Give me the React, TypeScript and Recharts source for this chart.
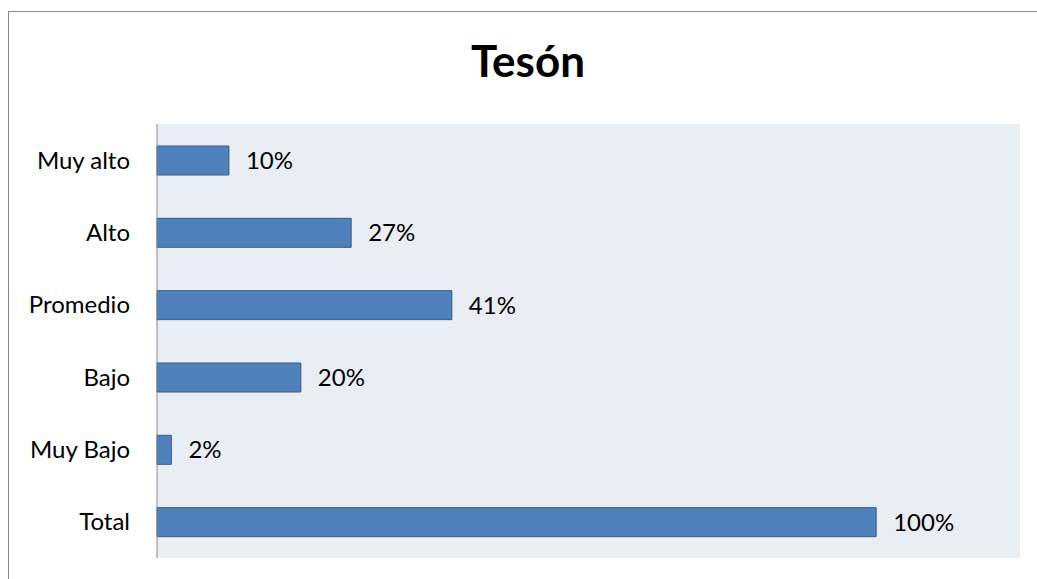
import React from 'react';
import { BarChart, Bar, XAxis, YAxis, CartesianGrid, LabelList } from 'recharts';

const categories = ['Muy alto', 'Alto', 'Promedio', 'Bajo', 'Muy Bajo', 'Total'];
const values = [10, 27, 41, 20, 2, 100];
const title = 'Tesón';

const data = categories.map((c, i) => ({ name: c, value: values[i] }));

const FONT = 'Lato, "Open Sans", sans-serif';

export default function App() {
  return (
    <div style={{ position: 'absolute', left: 0, top: 0, width: 1037, height: 579, overflow: 'hidden', background: '#fff', fontFamily: FONT }}>
      <div style={{ position: 'absolute', left: 8, top: 11, width: 1100, height: 700, border: '1px solid #888', boxSizing: 'border-box' }} />
      <div style={{ position: 'absolute', left: 0, top: 34, width: 1056, textAlign: 'center', fontSize: 44, fontWeight: 700, lineHeight: '52px', color: '#000' }}>{title}</div>
      <div style={{ position: 'absolute', left: 0, top: 0 }}>
        <BarChart width={1037} height={579} data={data} layout="vertical" margin={{ top: 124, right: 17, bottom: 21, left: 0 }}>
          <CartesianGrid fill="#E9EDF4" horizontal={false} vertical={false} stroke="none" />
          <XAxis type="number" domain={[0, 120]} hide />
          <YAxis type="category" dataKey="name" width={157} axisLine={{ stroke: '#888' }} tickLine={false} tickSize={0} tickMargin={27} tick={{ fill: '#000', fontSize: 24, fontFamily: FONT }} interval={0} />
          <Bar dataKey="value" fill="#4F81BD" stroke="#385D8A" strokeWidth={1} barSize={29} isAnimationActive={false}>
            <LabelList dataKey="value" position="right" offset={17} formatter={(v: any) => `${v}%`} style={{ fill: '#000', fontSize: 24, fontFamily: FONT }} />
          </Bar>
        </BarChart>
      </div>
    </div>
  );
}
